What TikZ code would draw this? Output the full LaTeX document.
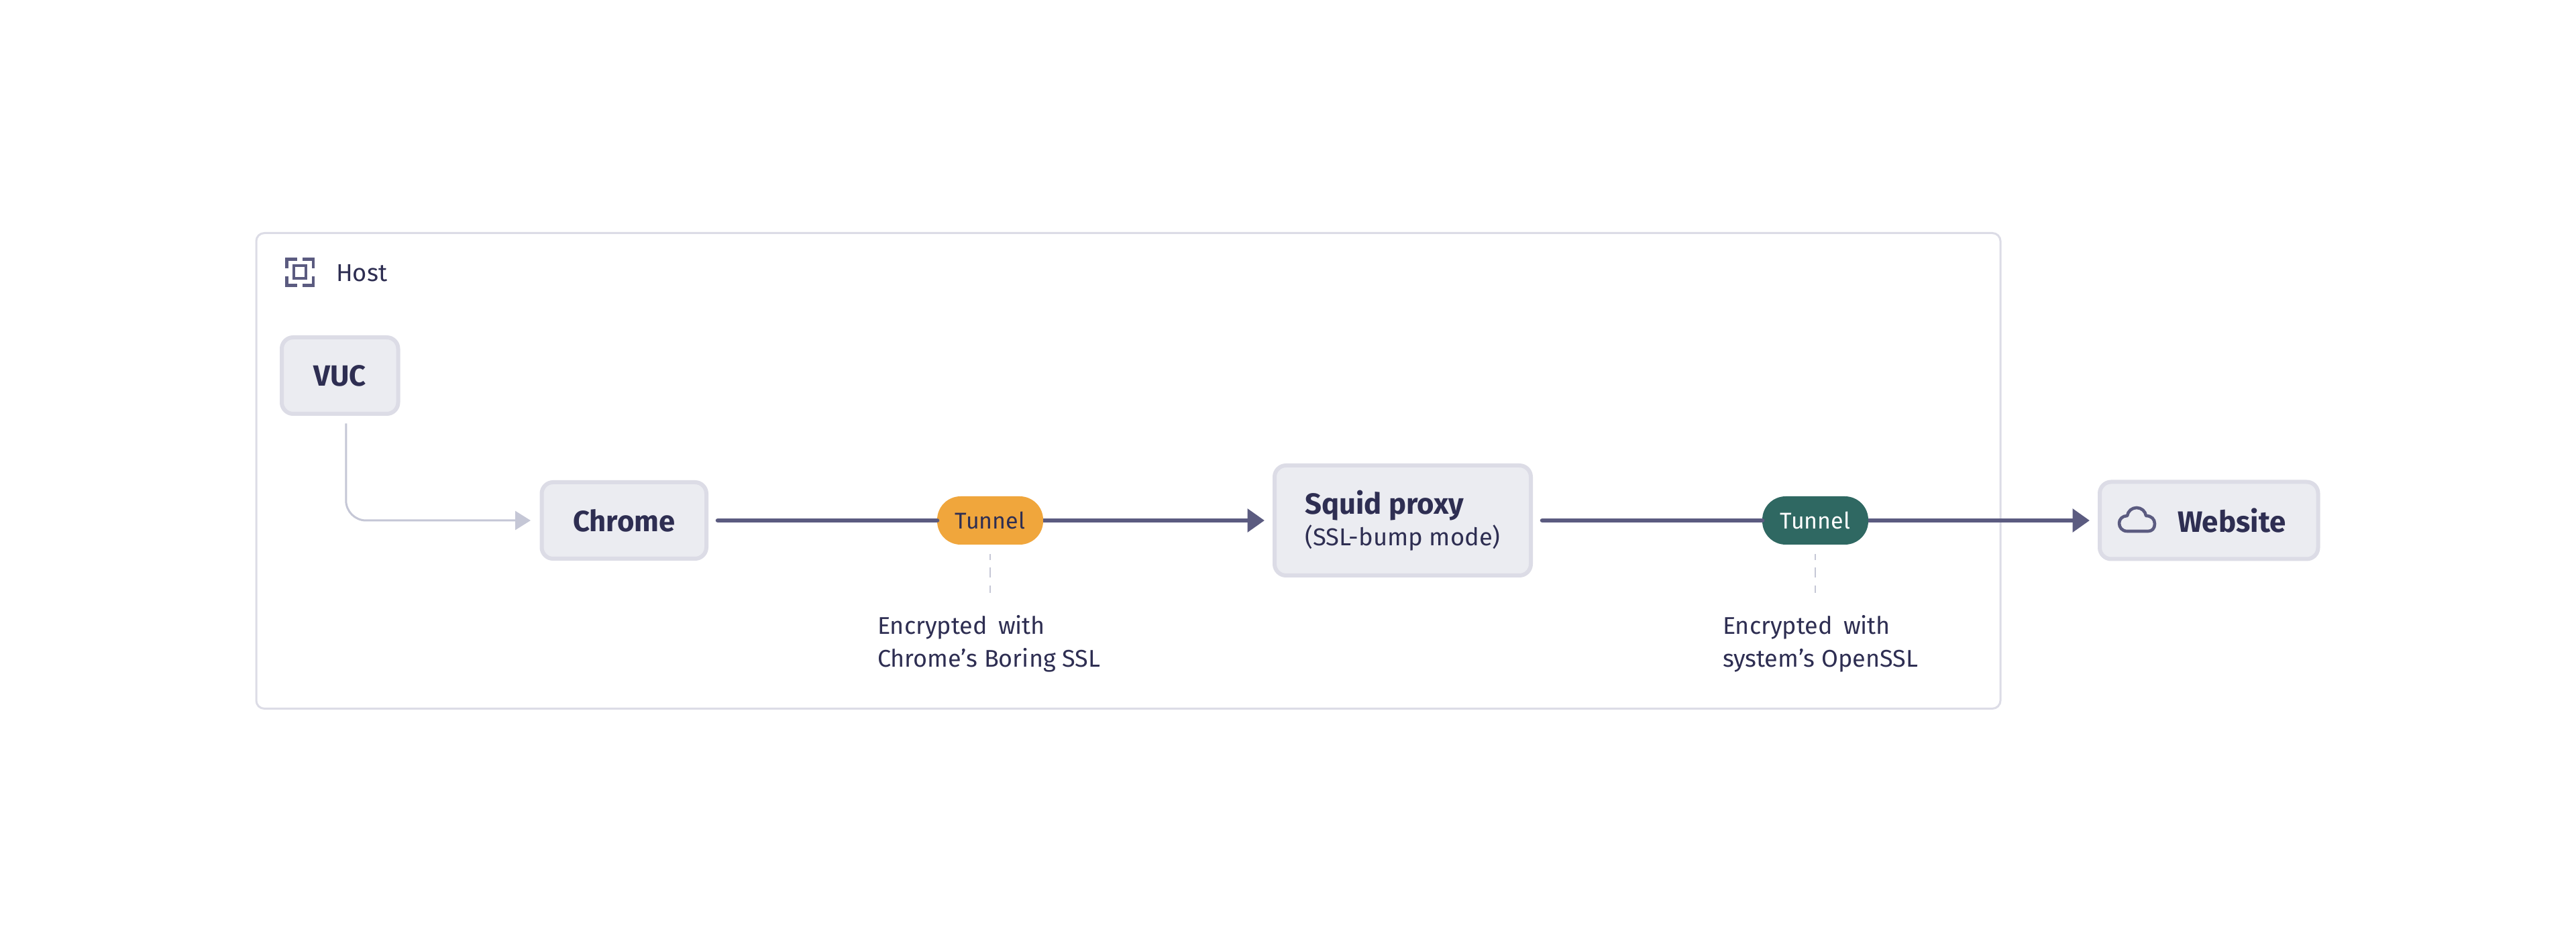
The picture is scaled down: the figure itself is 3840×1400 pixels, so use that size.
\documentclass[tikz,border=0pt]{standalone}
\usepackage{fontspec}
\setmainfont{Fira Sans}
\usetikzlibrary{arrows.meta}
\definecolor{ink}{HTML}{2E2E52}
\definecolor{wire}{HTML}{5B5B80}
\definecolor{pale}{HTML}{C5C7D6}
\definecolor{edge}{HTML}{DCDCE6}
\definecolor{fillbox}{HTML}{EBECF1}
\definecolor{amber}{HTML}{F0A63C}
\definecolor{pine}{HTML}{2F6862}
\tikzset{
  hostbox/.style={draw=edge,line width=1.5pt,rounded corners=6pt,outer sep=0pt,inner sep=0pt,fill=white},
  box/.style={draw=edge,fill=fillbox,line width=3pt,rounded corners=8.5pt,outer sep=0pt,inner sep=0pt,text=ink,
    font=\fontsize{21.8pt}{24pt}\selectfont\bfseries},
  pill/.style={minimum width=79pt,minimum height=36pt,rounded corners=17.5pt,outer sep=0pt,inner sep=0pt,
    font=\fontsize{17pt}{20pt}\selectfont},
  note/.style={anchor=base west,align=left,inner sep=0pt,outer sep=0pt,text=ink,
    font=\fontsize{18pt}{24.5pt}\selectfont},
  mainline/.style={draw=wire,line width=3.3pt},
  mainarrow/.style={mainline,-{Triangle[length=12.75pt,width=17pt]}},
  lightarrow/.style={draw=pale,line width=1.5pt,rounded corners=15pt,-{Triangle[length=11.5pt,width=14pt]}},
  dashline/.style={draw=pale,line width=1.4pt,dash pattern=on 7.5pt off 5.75pt,dash phase=3pt},
  icon/.style={draw=wire,line width=2.3pt}
}
\begin{document}
\begin{tikzpicture}[x=.5pt,y=-.5pt]
\path[use as bounding box,fill=white] (0,0) rectangle (3840,1400);
\node[hostbox,minimum width=1300pt,minimum height=354.5pt] (host) at (1682,702) {};
\node[anchor=base west,inner sep=0pt,outer sep=0pt,text=ink,font=\fontsize{18.2pt}{20pt}\selectfont] (hostlabel) at (501,420) {Host};
% host icon
\draw[icon] (427.5,400) -- (427.5,386.5) -- (443,386.5);
\draw[icon] (451,386.5) -- (467,386.5) -- (467,400);
\draw[icon] (427.5,412) -- (427.5,425.5) -- (443,425.5);
\draw[icon] (451,425.5) -- (467,425.5) -- (467,412);
\draw[icon] (438,396) rectangle (456,415);
% boxes
\node[box,minimum width=86.75pt,minimum height=57pt] (vuc) at (506.75,560) {VUC};
\node[box,minimum width=122.75pt,minimum height=57pt] (chrome) at (930.25,776) {Chrome};
\node[box,minimum width=191pt,minimum height=82pt,align=left] (squid) at (2091,776) {Squid proxy\\[-.5pt]{\fontsize{18.2pt}{24pt}\selectfont\mdseries (SSL-bump mode)}};
\node[box,minimum width=162.75pt,minimum height=57.5pt] (website) at (3292.75,776) {};
\node[anchor=base west,inner sep=0pt,outer sep=0pt,text=ink,font=\fontsize{22pt}{24pt}\selectfont\bfseries] (weblabel) at (3246,794) {Website};
% cloud icon
\draw[icon,line join=round] (3171,792) .. controls (3163,792) and (3159,786) .. (3159,780) .. controls (3159,774) and (3164,769) .. (3171,769) .. controls (3172,762) and (3178,757) .. (3185,757) .. controls (3192,757) and (3198,762) .. (3199,769) .. controls (3207,769) and (3212,774) .. (3212,781) .. controls (3212,788) and (3208,792) .. (3202,792) -- cycle;
% pills
\node[pill,fill=amber,text=ink] (tun1) at (1476,776) {Tunnel};
\node[pill,fill=pine,text=white] (tun2) at (2706,776) {Tunnel};
% connectors
\draw[lightarrow] ([shift={(9,14.4)}]vuc.south) |- ([xshift=-8.25pt]chrome.west);
\draw[mainline,line cap=round] ([xshift=8.5pt]chrome.east) -- (tun1.west);
\draw[mainarrow] (tun1.east) -- ([xshift=-7.5pt]squid.west);
\draw[mainline,line cap=round] ([xshift=8.5pt]squid.east) -- (tun2.west);
\draw[mainarrow] (tun2.east) -- ([xshift=-7.5pt]website.west);
% notes
\node[note] (note1) at (1308,994) {Encrypted\hspace{.45em}with\\Chrome's Boring SSL};
\node[note] (note2) at (2568,994) {Encrypted\hspace{.45em}with\\system's OpenSSL};
\coordinate (dash1end) at (1476,884);
\coordinate (dash2end) at (2706,884);
\draw[dashline] ([yshift=-7pt]tun1.south) -- (dash1end);
\draw[dashline] ([yshift=-7pt]tun2.south) -- (dash2end);
\end{tikzpicture}
\end{document}
